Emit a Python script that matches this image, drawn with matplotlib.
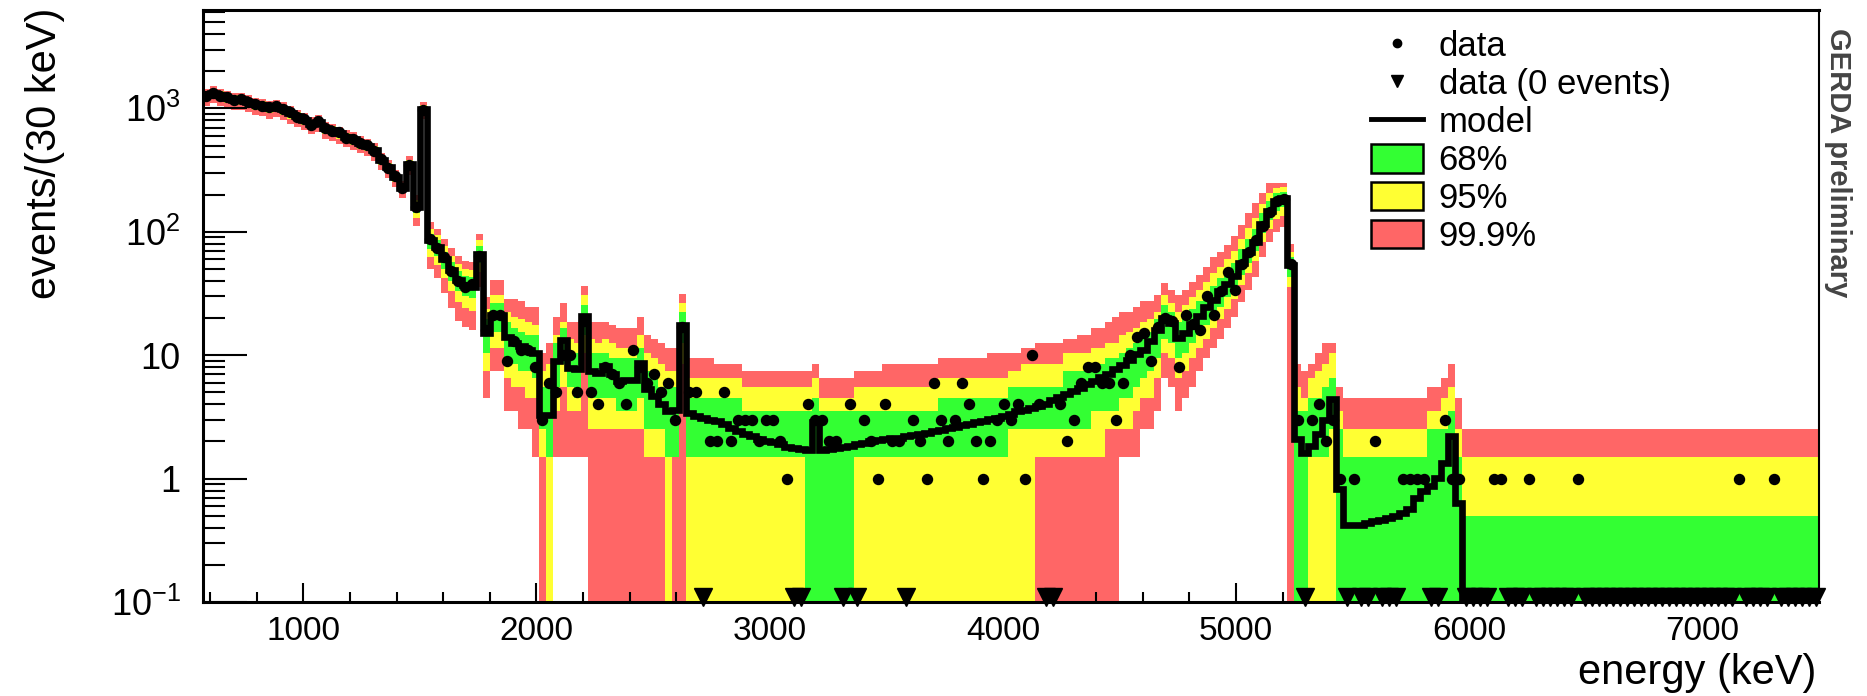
import numpy as np
import matplotlib
matplotlib.use("Agg")
import matplotlib.pyplot as plt
from matplotlib.lines import Line2D
from matplotlib.patches import Patch
from matplotlib.ticker import MultipleLocator, LogLocator, FixedLocator, NullFormatter

plt.rcParams['font.family'] = ['Liberation Sans', 'DejaVu Sans']
plt.rcParams['mathtext.fontset'] = 'custom'
plt.rcParams['mathtext.rm'] = 'Liberation Sans'

# 30 keV bins from 570 to 7500 keV
edges = np.arange(570, 7501, 30)

model = [1280, 1340, 1280, 1220, 1180, 1190, 1130, 1080, 1060, 1010,
         1030, 990, 920, 860, 810, 750, 780, 690, 665, 630,
         590, 565, 525, 500, 460, 385, 335, 280, 228, 355,
         158, 980, 86, 75, 60, 49, 41, 37, 36, 66,
         15, 21, 21, 14, 12.6, 11.8, 11.1, 10.4, 3.3, 3.3,
         8.9, 13.4, 7.9, 7.7, 20.7, 7.4, 7.2, 8.1, 7.0, 6.2,
         6.3, 6.3, 8.7, 5.3, 4.7, 4.0, 3.5, 3.6, 17.7, 3.4,
         3.2, 3.1, 3.0, 2.93, 2.75, 2.58, 2.43, 2.28, 2.21, 2.08,
         2.02, 1.98, 1.9, 1.81, 1.76, 1.75, 1.7, 2.9, 1.72, 1.74,
         1.76, 1.8, 1.84, 1.9, 1.96, 2.0, 2.05, 2.1, 2.12, 2.15,
         2.2, 2.25, 2.3, 2.36, 2.42, 2.48, 2.55, 2.62, 2.7, 2.78,
         2.86, 2.94, 3.03, 3.12, 3.22, 3.35, 3.5, 3.62, 3.75, 3.88,
         4.0, 4.3, 4.6, 4.85, 5.1, 5.4, 5.8, 6.2, 6.6, 7.1,
         7.7, 8.4, 9.2, 10.2, 11.0, 13.0, 16.0, 20.0, 18.2, 13.8,
         15.2, 18.0, 20.7, 24.5, 28.0, 33.0, 38.0, 44.0, 56.0, 68.0,
         83, 115, 148, 178, 187, 54, 2.1, 1.6, 1.84, 2.3,
         3.0, 4.4, 0.82, 0.42, 0.42, 0.42, 0.44, 0.45, 0.46, 0.48,
         0.5, 0.53, 0.57, 0.7, 0.8, 0.87, 1.02, 1.35, 2.2, 0.64] + [0.05] * 51

counts = [1250, 1330, 1270, 1230, 1170, 1200, 1120, 1090, 1050, 1020,
          1040, 980, 930, 850, 820, 740, 790, 700, 660, 640,
          580, 570, 520, 505, 450, 390, 330, 285, 225, 350,
          160, 970, 88, 74, 62, 48, 40, 36, 38, 64,
          16, 21, 21, 9, 13, 11, 11, 8, 3, 6,
          5, 10, 10, 5, 19, 5, 4, 8, 7, 6,
          4, 11, 8, 6, 7, 5, 6, 3, 17, 5,
          5, 0, 2, 2, 5, 2, 3, 3, 3, 2,
          3, 3, 2, 1, 0, 0, 4, 3, 3, 2,
          2, 0, 4, 0, 3, 2, 1, 4, 2, 2,
          0, 3, 2, 1, 6, 3, 2, 3, 6, 4,
          2, 1, 2, 3, 4, 3, 4, 1, 10, 4,
          0, 0, 4, 2, 3, 6, 8, 8, 6, 6,
          3, 6, 10, 14, 15, 9, 17, 20, 19, 8,
          21, 18, 16, 30, 21, 33, 47, 34, 55, 68,
          85, 112, 145, 178, 185, 55, 3, 0, 3, 4,
          2, 3, 1, 0, 1, 0, 0, 2, 0, 0,
          0, 1, 1, 1, 1, 0, 0, 3, 1, 1,
          0, 0, 0, 0, 1, 1, 0, 0, 0, 1,
          0, 0, 0, 0, 0, 0, 1, 0, 0, 0,
          0, 0, 0, 0, 0, 0, 0, 0, 0, 0,
          0, 0, 0, 0, 0, 0, 0, 0, 0, 1,
          0, 0, 0, 0, 1, 0, 0, 0, 0, 0,
          0]

# 99.9% band
red_lo = ([1050, 1099, 1050, 1000, 968, 976, 927, 886, 869, 828, 845, 812, 754, 705, 664,
           615, 640, 566, 545, 517, 484, 463, 431, 410, 377, 316, 275, 230, 187,
           290, 112, 820, 50, 42, 32, 24, 19, 17, 16, 36,
           4.5, 7.5, 7.5, 3.5, 3.5, 2.5, 2.5, 1.5,
           0, 0, 1.5, 1.5, 1.5, 1.5, 1.5] + [0] * 14 + [0] * 62 +
          [1.5, 1.5, 1.5, 2.5, 2.5, 3.5, 6.5, 5.5, 3.5, 4.5, 5.5, 7.5, 9.5, 11.5, 13.5,
           16.5, 20.5, 27, 34, 43, 62, 82, 100, 110, 0] + [0] * 75)
red_hi = ([1446, 1514, 1446, 1379, 1333, 1345, 1277, 1220, 1198, 1141, 1164, 1119, 1040, 972, 915,
           848, 881, 780, 751, 712, 667, 638, 593, 565, 520, 435, 379, 316, 258,
           410, 200, 1120, 120, 106, 88, 74, 64, 58, 57, 96,
           29.5, 40.5, 40.5, 28.5, 28.5, 27.5, 24.5, 24.5,
           10.5, 12.5, 20.5, 26.5, 18.5, 18.5, 36.5, 18.5, 18.5, 18.5, 17.5, 16.5, 16.5, 16.5,
           20.5, 14.5, 13.5, 12.5, 11.5, 11.5, 31.5] +
          [9.5] * 4 + [8.5] * 4 + [7.5] * 10 + [8.5] + [6.5] * 5 + [7.5] * 4 +
          [8.5] * 8 + [9.5] * 7 + [10.5] * 5 + [11.5] * 2 + [12.5] * 4 + [13.5] * 2 +
          [14.5] * 2 + [16.5] * 2 + [18.5, 20.5] +
          [22.5, 22.5, 24.5, 27.5, 27.5, 30.5, 38.5, 33.5, 30.5, 33.5, 39.5, 44.5, 52, 62, 69,
           78, 92, 114, 141, 170, 206, 247, 247, 250, 80] +
          [8.5, 7.5, 8.5, 10.5, 12.5, 12.5, 5.5] + [4.5] * 11 + [4.5, 5.5, 5.5, 6.5, 8.5, 4.5] +
          [2.5] * 51)

# 95% band
yel_lo = ([1152, 1206, 1152, 1098, 1062, 1071, 1017, 972, 954, 909, 927, 891, 828, 774, 729,
           675, 702, 621, 599, 567, 531, 509, 473, 450, 414, 347, 302, 252, 205,
           320, 130, 890, 62, 54, 42, 33, 27, 24, 23, 47,
           7.5, 11.5, 11.5, 6.5, 5.5, 5.5, 4.5, 4.5,
           1.5, 0, 3.5, 5.5, 3.5, 3.5, 10.5, 2.5, 2.5, 2.5, 2.5, 2.5, 2.5, 2.5, 2.5,
           1.5, 1.5, 1.5, 0, 1.5, 8.5] + [0] * 50 + [1.5] * 10 + [2.5] * 2 +
          [2.5, 2.5, 3.5, 4.5, 4.5, 6.5, 10.5, 9.5, 6.5, 7.5, 9.5, 11.5, 13.5, 16.5, 19.5,
           23.5, 28.5, 37, 46, 58, 82, 106, 127, 135, 36] + [0] * 75)
yel_hi = ([1382, 1447, 1382, 1318, 1274, 1285, 1220, 1166, 1145, 1091, 1112, 1069, 994, 929, 875,
           810, 842, 745, 718, 680, 637, 610, 567, 540, 497, 416, 362, 302, 246,
           385, 182, 1060, 106, 94, 77, 64, 55, 50, 49, 85,
           23.5, 30.5, 30.5, 22.5, 20.5, 19.5, 18.5, 17.5,
           7.5, 8.5, 14.5, 18.5, 13.5, 12.5, 30.5, 13.5, 12.5, 13.5, 12.5, 11.5, 11.5, 11.5,
           14.5, 10.5, 9.5, 8.5, 7.5, 7.5, 26.5] +
          [6.5] * 8 + [5.5] * 10 + [6.5] + [4.5] * 5 + [5.5] * 4 +
          [5.5] * 8 + [6.5] * 10 + [7.5] * 2 + [8.5] * 6 + [10.5] * 4 + [11.5] * 2 + [12.5] * 2 +
          [14.5, 15.5, 16.5, 18.5, 19.5, 22.5, 30.5, 26.5, 22.5, 25.5, 29.5, 33.5, 39.5, 46.5, 52,
           60, 70, 88, 108, 130, 168, 205, 225, 230, 68] +
          [5.5, 4.5, 6.5, 7.5, 8.5, 10.5, 3.5] + [2.5] * 11 + [2.5, 3.5, 3.5, 4.5, 5.5, 2.5] +
          [1.5] * 51)

# 68% band
grn_lo = ([1216, 1273, 1216, 1159, 1121, 1131, 1074, 1026, 1007, 960, 979, 941, 874, 817, 770,
           713, 741, 656, 632, 599, 561, 537, 499, 475, 437, 366, 318, 266, 217,
           337, 143, 935, 73, 64, 50, 40, 33, 30, 29, 56,
           10.5, 15.5, 15.5, 9.5, 8.5, 7.5, 7.5, 6.5,
           2.5, 1.5, 5.5, 8.5, 5.5, 4.5, 14.5, 4.5, 4.5, 4.5, 4.5, 3.5, 3.5, 3.5, 4.5,
           2.5, 2.5, 2.5, 1.5, 1.5, 12.5] +
          [1.5] * 17 + [0] * 7 + [1.5] * 4 +
          [1.5] * 18 + [2.5] * 12 + [3.5] * 4 +
          [4.5, 4.5, 5.5, 6.5, 7.5, 9.5, 13.5, 12.5, 9.5, 10.5, 12.5, 14.5, 17.5, 20.5, 24.5,
           29.5, 34.5, 45, 56, 70, 97, 124, 148, 160, 43] +
          [0, 0, 1.5, 1.5, 1.5, 2.5] + [0] * 18 + [0] * 51)
grn_hi = ([1331, 1394, 1331, 1269, 1227, 1238, 1175, 1123, 1102, 1050, 1071, 1030, 957, 894, 842,
           780, 811, 718, 692, 655, 614, 588, 546, 520, 478, 400, 348, 291, 237,
           370, 170, 1020, 96, 85, 69, 57, 48, 44, 43, 76,
           19.5, 26.5, 26.5, 18.5, 16.5, 15.5, 14.5, 14.5,
           5.5, 5.5, 12.5, 16.5, 10.5, 10.5, 25.5, 10.5, 10.5, 10.5, 9.5, 9.5, 9.5, 9.5,
           11.5, 7.5, 6.5, 5.5, 5.5, 5.5, 22.5] +
          [4.5] * 8 + [3.5] * 10 + [4.5] + [3.5] * 9 +
          [3.5] * 8 + [4.5] * 10 + [5.5] * 8 + [7.5] * 4 + [8.5] * 2 + [9.5] * 2 +
          [10.5, 11.5, 12.5, 14.5, 15.5, 19.5, 25.5, 22.5, 18.5, 20.5, 23.5, 27.5, 31.5, 36.5, 42.5,
           48.5, 56, 72, 88, 106, 142, 178, 205, 212, 62] +
          [3.5, 3.5, 4.5, 4.5, 5.5, 6.5, 2.5] + [1.5] * 11 + [1.5, 2.5, 2.5, 2.5, 3.5, 1.5] +
          [0.5] * 51)

nb = len(edges) - 1
for arr in (model, counts, red_lo, red_hi, yel_lo, yel_hi, grn_lo, grn_hi):
    assert len(arr) == nb, len(arr)

RED = '#ff6666'
YEL = '#ffff33'
GRN = '#33ff33'
FLOOR = 1e-3


def lo(a):
    a = np.asarray(a, dtype=float)
    return np.where(a <= 0, FLOOR, a)


fig = plt.figure(figsize=(18.67, 6.96), dpi=100)
ax = fig.add_axes([203 / 1867, 94 / 696, 1616 / 1867, 592 / 696])

ax.stairs(red_hi, edges, baseline=lo(red_lo), fill=True, color=RED, lw=0, zorder=1)
ax.stairs(yel_hi, edges, baseline=lo(yel_lo), fill=True, color=YEL, lw=0, zorder=2)
ax.stairs(grn_hi, edges, baseline=lo(grn_lo), fill=True, color=GRN, lw=0, zorder=3)
ax.stairs(model, edges, baseline=None, color='black', lw=4.8, zorder=4)

centers = 0.5 * (edges[:-1] + edges[1:])
cnt = np.asarray(counts)
ax.plot(centers[cnt > 0], cnt[cnt > 0], 'o', color='black', ms=7.2, zorder=5)
ax.plot(centers[cnt == 0], np.full((cnt == 0).sum(), 0.109), 'v', color='black',
        ms=12.5, zorder=6, clip_on=False)

ax.set_xlim(570, 7500)
ax.set_yscale('log')
ax.set_ylim(0.1, 6270)

ax.xaxis.set_major_locator(MultipleLocator(1000))
ax.xaxis.set_minor_locator(MultipleLocator(200))
ax.yaxis.set_major_locator(FixedLocator([0.1, 1, 10, 100, 1000]))
ax.set_yticklabels([r'$\mathregular{10^{-1}}$', '1', '10',
                    r'$\mathregular{10^{2}}$', r'$\mathregular{10^{3}}$'])
ax.yaxis.set_minor_locator(LogLocator(base=10, subs=np.arange(2, 10), numticks=20))
ax.yaxis.set_minor_formatter(NullFormatter())

ax.tick_params(axis='x', which='major', direction='in', length=14, width=1.5,
               top=False, labelsize=24, pad=10)
ax.tick_params(axis='x', which='minor', direction='in', length=7, width=1.5, top=False)
ax.tick_params(axis='y', which='major', direction='in', length=32, width=1.5,
               right=False, labelsize=26, pad=16)
ax.tick_params(axis='y', which='minor', direction='in', length=16, width=1.5, right=False)
for side in ('left', 'bottom', 'top'):
    ax.spines[side].set_linewidth(2.2)
ax.spines['right'].set_linewidth(1.5)
for s in ax.spines.values():
    s.set_zorder(7)

fig.text(1816 / 1867, 1 - 673 / 696, 'energy (keV)', ha='right', va='center', fontsize=30)
fig.text(45 / 1867, 1 - 8 / 696, 'events/(30 keV)', rotation=90, ha='center', va='top',
         fontsize=30)
fig.text(1838 / 1867, 1 - 28 / 696, 'GERDA preliminary', rotation=-90, ha='center',
         va='top', fontsize=21, fontweight='bold', color='#444444')

handles = [
    Line2D([], [], marker='o', ls='none', color='black', ms=6),
    Line2D([], [], marker='v', ls='none', color='black', ms=8),
    Line2D([], [], color='black', lw=3.5),
    Patch(facecolor=GRN, edgecolor='black', lw=1.8),
    Patch(facecolor=YEL, edgecolor='black', lw=1.8),
    Patch(facecolor=RED, edgecolor='black', lw=1.8),
]
labels = ['data', 'data (0 events)', 'model', '68%', '95%', '99.9%']
ax.legend(handles, labels, loc='upper left', bbox_to_anchor=(1371 / 1867, 1 - 30 / 696),
          bbox_transform=fig.transFigure, frameon=False, fontsize=25,
          handlelength=1.5, handleheight=0.9, handletextpad=0.45, labelspacing=0.13,
          borderpad=0, borderaxespad=0)

fig.savefig('out.png', dpi=100)
